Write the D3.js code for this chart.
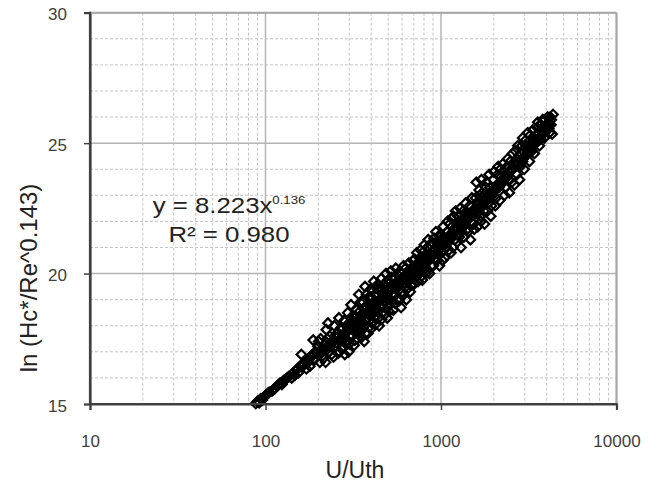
<!DOCTYPE html>
<html>
<head>
<meta charset="utf-8">
<script src="https://cdn.jsdelivr.net/npm/d3@7"></script>
<style>
  body { margin: 0; background: #fff; }
  svg { display: block; font-family: Arial, "Liberation Sans", sans-serif; }
  .tick-label { fill: #404040; font-size: 17px; }
  .title { fill: #222; font-size: 23px; }
</style>
</head>
<body>
<svg width="657" height="487"></svg>
<script>
// Tick values
const X_TICKS = [10, 100, 1000, 10000];
const X_MINOR = [20, 30, 40, 50, 60, 70, 80, 90, 200, 300, 400, 500, 600, 700, 800, 900,
                 2000, 3000, 4000, 5000, 6000, 7000, 8000, 9000];
const Y_TICKS = [15, 20, 25, 30];
const Y_MINOR = [16, 17, 18, 19, 21, 22, 23, 24, 26, 27, 28, 29];

// Power fit shown on the chart
const FIT_A = 8.223;
const FIT_B = 0.136;
const FIT_RANGE = [83.2, 4400];

// Observations: U/Uth
const U_RATIO = [
  88, 90, 92, 94, 96, 99, 101,
  105, 109, 113, 117, 121, 124,
  130, 136, 141, 147, 150, 154, 158, 160,
  166, 171, 175, 179, 183, 187, 190, 196, 199, 204, 206, 209,
  214, 218, 222, 227, 230, 233, 238, 241, 246, 250, 255, 259, 262, 266,
  272, 276, 281, 285, 290, 294, 298, 303, 307, 311, 316, 320, 325, 330, 335, 340, 344,
  350, 355, 360, 365, 369, 373, 378, 383, 388, 392, 397, 402, 408, 414, 420, 426, 432, 438, 444, 449,
  456, 462, 470, 478, 486, 494, 502, 510, 518, 526, 535, 544, 553, 562, 572, 582, 592, 600,
  612, 622, 634, 645, 656, 668, 680, 692, 704, 716, 728, 740, 752, 764,
  776, 790, 804, 818, 832, 846, 860, 875, 890, 905, 920, 935, 950, 965, 980, 995, 1010,
  1030, 1050, 1070, 1090, 1110, 1130, 1150, 1170, 1190, 1210, 1235, 1260, 1285, 1300,
  1325, 1350, 1380, 1410, 1440, 1470, 1500, 1530, 1560, 1590, 1620, 1650, 1680, 1700,
  1740, 1770, 1800, 1840, 1880, 1920, 1960, 2000, 2040, 2080, 2120, 2160, 2200,
  2250, 2300, 2350, 2400, 2450, 2500, 2560, 2620, 2680, 2740, 2800, 2860, 2920,
  2980, 3050, 3120, 3190, 3260, 3330, 3400, 3480, 3560, 3640, 3720, 3800, 3880, 3960,
  4050, 4150, 4250, 4350, 4300,
  201, 212, 220, 225, 236, 244, 248, 253, 264, 268, 278, 283, 288, 292, 300, 305,
  313, 318, 323, 328, 333, 338, 342, 347, 352, 357, 362, 367, 371, 376, 381, 386, 390, 395,
  400, 405, 411, 417, 423, 429, 435, 441, 447,
  452, 459, 466, 474, 482, 490, 498, 506, 514, 522, 530, 540, 549, 558, 567, 577, 587, 597,
  606, 617, 628, 640, 651, 662, 674, 686, 698, 710, 722, 734, 746, 758,
  770, 783, 797, 811, 825, 839, 853, 867, 882, 897, 912, 927, 942, 957, 972, 988, 1002,
  1020, 1040, 1060, 1080, 1100, 1120, 1140, 1160, 1180, 1200, 1222, 1248, 1272, 1292,
  1312, 1338, 1365, 1395, 1425, 1455, 1485, 1515, 1545, 1575, 1605, 1635, 1665, 1690,
  1720, 1755, 1785, 1820, 1860, 1900, 1940, 1980, 2020, 2060, 2100, 2140, 2180,
  2230, 2280, 2330, 2380, 2430, 2480, 2530, 2590, 2650, 2710, 2770, 2830, 2890, 2950,
  3020, 3080, 3150, 3220, 3300, 3370, 3440, 3520, 3600, 3680, 3760, 3840, 3920, 4000, 4100, 4200,
  103, 111, 119, 127, 133, 144, 152, 163, 169, 177, 185, 193,
  208, 216, 224, 232, 240, 252, 260, 270, 279, 287, 296, 309, 315, 326, 336, 346, 354, 363,
  374, 384, 394, 404, 415, 425, 437, 446,
  460, 472, 484, 496, 508, 520, 533, 547, 560, 575, 590, 604, 620, 637, 654, 671, 689, 707,
  725, 743, 761, 780, 800, 820, 842, 864, 886, 910, 932, 956, 978, 998,
  1025, 1055, 1085, 1115, 1145, 1175, 1205, 1240, 1275, 1305, 1345, 1385, 1420, 1460, 1500,
  1540, 1580, 1625, 1670, 1715, 1760, 1810, 1860, 1910, 1960, 2010, 2070, 2130, 2190,
  2260, 2320, 2390, 2460, 2540, 2610, 2690, 2760, 2840, 2910, 2990, 3070, 3160, 3240, 3330,
  3420, 3510, 3610, 3700, 3800, 3900, 4020, 4120, 4230
];

// Observations: ln (Hc*/Re^0.143)
const LN_HC = [
  15.02, 15.10, 15.05, 15.20, 15.15, 15.30, 15.35,
  15.45, 15.50, 15.60, 15.70, 15.80, 15.75,
  15.95, 16.05, 16.00, 16.10, 16.30, 16.20, 16.45, 16.90,
  16.50, 16.35, 16.60, 16.45, 16.80, 17.45, 16.70, 16.95, 17.20, 16.60, 17.50, 17.05,
  16.75, 17.30, 17.85, 18.10, 17.00, 17.60, 16.90, 17.40, 18.00, 17.20, 17.70, 16.95, 18.30, 17.50,
  17.10, 17.90, 18.20, 17.35, 17.75, 18.50, 17.00, 18.05, 18.80, 17.60, 18.35, 17.25, 18.00, 18.60, 17.50, 19.20, 18.10,
  17.80, 18.45, 18.90, 17.40, 19.50, 18.20, 18.70, 17.70, 19.10, 18.40, 19.40, 17.90, 18.80, 19.70, 18.30, 19.15, 18.60, 19.60, 18.00, 19.00,
  19.80, 18.50, 19.30, 18.90, 20.00, 18.30, 19.60, 18.80, 20.10, 19.20, 18.60, 19.80, 20.20, 19.00, 19.50, 20.10, 18.70, 19.30,
  20.30, 19.60, 19.00, 20.00, 20.40, 19.30, 19.80, 20.50, 19.60, 20.10, 20.80, 19.70, 20.30, 20.90,
  19.90, 20.60, 21.10, 20.10, 20.70, 21.30, 20.00, 20.60, 21.20, 20.30, 20.90, 21.60, 20.50, 21.10, 20.30, 21.50, 20.80,
  21.80, 20.60, 21.20, 22.00, 20.90, 21.50, 22.10, 21.00, 21.70, 22.40, 21.20, 21.90, 22.50, 21.00,
  22.10, 21.40, 22.70, 21.70, 22.30, 21.30, 22.90, 21.90, 22.50, 23.50, 21.80, 23.20, 22.20, 23.60,
  22.70, 21.90, 23.30, 22.40, 23.80, 22.20, 23.00, 23.90, 22.60, 23.40, 24.10, 22.80, 23.70,
  24.20, 23.00, 23.80, 24.40, 23.10, 24.00, 24.60, 23.40, 24.30, 24.90, 23.60, 24.60, 25.20,
  24.00, 24.90, 25.40, 24.30, 25.00, 25.50, 24.60, 25.30, 25.80, 24.90, 25.50, 25.90, 25.20, 25.70,
  26.00, 25.40, 25.90, 26.10, 25.35,
  17.40, 17.10, 16.60, 17.50, 17.20, 16.80, 17.60, 17.35, 17.00, 17.90, 17.55, 16.90, 18.00, 17.45, 17.30, 18.30,
  18.00, 17.80, 17.45, 18.35, 17.85, 18.50, 17.70, 18.90, 17.55, 18.15, 18.65, 18.00, 17.70, 19.20, 18.30, 18.85, 17.95, 18.60,
  19.10, 18.10, 19.35, 18.55, 18.05, 18.90, 19.40, 18.30, 18.75,
  19.45, 18.25, 18.80, 19.60, 18.45, 19.15, 19.75, 18.55, 19.35, 19.85, 18.90, 19.50, 18.85, 19.65, 19.95, 18.95, 19.75, 20.00,
  19.15, 19.80, 20.20, 19.40, 19.75, 20.10, 19.55, 20.25, 19.90, 20.55, 19.90, 20.40, 20.05, 20.60,
  20.30, 19.75, 20.85, 20.40, 20.00, 21.00, 20.50, 21.10, 20.30, 20.85, 21.35, 20.60, 21.20, 20.75, 21.45, 20.95, 21.30,
  20.50, 21.40, 21.00, 21.60, 21.25, 21.90, 20.80, 21.45, 22.20, 21.30, 21.80, 22.20, 21.40, 22.00,
  21.60, 22.40, 21.90, 22.30, 21.60, 22.60, 22.00, 22.40, 21.70, 22.90, 22.30, 22.70, 23.00, 22.00,
  23.10, 22.40, 23.00, 23.50, 22.70, 23.30, 22.60, 23.60, 23.20, 22.90, 23.80, 23.30, 24.00,
  23.50, 23.90, 23.30, 24.10, 23.60, 24.30, 23.50, 24.20, 24.70, 23.80, 24.50, 24.10, 24.90, 24.40,
  25.10, 24.60, 24.90, 25.30, 24.70, 25.20, 25.00, 25.60, 25.10, 25.70, 25.30, 25.60, 25.90, 25.50, 25.80, 26.00,
  15.40, 15.55, 15.75, 15.90, 16.00, 16.20, 16.35, 16.55, 16.65, 16.75, 16.90, 17.00,
  16.95, 17.10, 17.20, 17.30, 17.35, 17.55, 17.60, 17.45, 17.70, 17.75, 17.90, 17.95, 18.10, 18.10, 18.20, 18.30, 18.15, 18.40,
  18.50, 18.45, 18.65, 18.70, 18.85, 18.70, 18.90, 19.00,
  19.00, 18.95, 19.20, 19.05, 19.30, 19.45, 19.25, 19.45, 19.60, 19.50, 19.65, 19.55, 19.85, 19.75, 19.95, 19.90, 20.05, 20.15,
  20.10, 20.30, 20.25, 20.45, 20.40, 20.60, 20.55, 20.75, 20.70, 20.90, 20.80, 21.00, 21.05, 20.95,
  21.10, 21.25, 21.30, 21.40, 21.55, 21.50, 21.65, 21.70, 21.85, 21.75, 21.95, 22.05, 22.10, 22.15, 22.30,
  22.25, 22.45, 22.50, 22.55, 22.65, 22.75, 22.85, 23.00, 22.95, 23.20, 23.15, 23.30, 23.45, 23.40,
  23.60, 23.70, 23.75, 23.90, 24.00, 24.05, 24.20, 24.25, 24.35, 24.30, 24.50, 24.55, 24.70, 24.75, 24.90,
  24.95, 25.05, 25.20, 25.15, 25.35, 25.40, 25.60, 25.55, 25.70
];

var pArea = [90, 12.7, 616.5, 404];

var xScale = d3.scaleLog()
  .domain([10, 10000])
  .range([pArea[0], pArea[2]]);

var yScale = d3.scaleLinear()
  .domain([15, 30])
  .range([pArea[3], pArea[1]]);

var svg = d3.select("svg");
var g = svg.append("g");

// minor grid
g.selectAll(".vminor").data(X_MINOR).enter().append("line")
  .attr("x1", d => xScale(d)).attr("x2", d => xScale(d))
  .attr("y1", pArea[1]).attr("y2", pArea[3])
  .attr("stroke", "#c4c4c4").attr("stroke-width", 1)
  .attr("stroke-dasharray", "3,2");

g.selectAll(".hminor").data(Y_MINOR).enter().append("line")
  .attr("x1", pArea[0]).attr("x2", pArea[2])
  .attr("y1", d => yScale(d)).attr("y2", d => yScale(d))
  .attr("stroke", "#c4c4c4").attr("stroke-width", 1)
  .attr("stroke-dasharray", "3,2");

// major grid
g.selectAll(".vmajor").data(X_TICKS.slice(1)).enter().append("line")
  .attr("x1", d => xScale(d)).attr("x2", d => xScale(d))
  .attr("y1", pArea[1]).attr("y2", pArea[3])
  .attr("stroke", "#b4b4b4").attr("stroke-width", 1.5);

g.selectAll(".hmajor").data(Y_TICKS.slice(1)).enter().append("line")
  .attr("x1", pArea[0]).attr("x2", pArea[2])
  .attr("y1", d => yScale(d)).attr("y2", d => yScale(d))
  .attr("stroke", "#b4b4b4").attr("stroke-width", 1.5);

// x-axis
var xAxis = g.append("g")
  .attr("transform", `translate(0, ${pArea[3]})`)
  .call(d3.axisBottom(xScale).tickValues(X_TICKS).tickFormat(d3.format("d")).tickSize(6).tickPadding(25));
xAxis.select(".domain").attr("stroke", "#404040").attr("stroke-width", 2.2);
xAxis.selectAll("line").attr("stroke", "#404040").attr("stroke-width", 1.5);
xAxis.selectAll("text").attr("class", "tick-label").attr("font-size", null);

// y-axis
var yAxis = g.append("g")
  .attr("transform", `translate(${pArea[0]}, 0)`)
  .call(d3.axisLeft(yScale).tickValues(Y_TICKS).tickSize(6).tickPadding(17));
yAxis.select(".domain").attr("stroke", "#404040").attr("stroke-width", 2.2);
yAxis.selectAll("line").attr("stroke", "#404040").attr("stroke-width", 1.5);
yAxis.selectAll("text").attr("class", "tick-label").attr("font-size", null).attr("dy", "0.42em");

// fit line
var fitX = d3.range(0, 61).map(i => FIT_RANGE[0] * Math.pow(FIT_RANGE[1] / FIT_RANGE[0], i / 60));
var line = d3.line()
  .x(d => xScale(d))
  .y(d => yScale(FIT_A * Math.pow(d, FIT_B)));
g.append("path")
  .datum(fitX)
  .attr("fill", "none").attr("stroke", "#000").attr("stroke-width", 3.2)
  .attr("d", line);

// data points (diamonds)
var diamond = d3.symbol().type(d3.symbolSquare).size(45);
g.selectAll(".dot").data(U_RATIO).enter().append("path")
  .attr("class", "dot")
  .attr("d", diamond)
  .attr("transform", (d, i) => `translate(${xScale(d)},${yScale(LN_HC[i])}) rotate(45)`)
  .attr("fill", "none").attr("stroke", "#000").attr("stroke-width", 2.2);

// top/right border
g.append("line").attr("x1", pArea[0]).attr("x2", pArea[2]).attr("y1", pArea[1]).attr("y2", pArea[1])
  .attr("stroke", "#a6a6a6").attr("stroke-width", 2);
g.append("line").attr("x1", pArea[2]).attr("x2", pArea[2]).attr("y1", pArea[1]).attr("y2", pArea[3])
  .attr("stroke", "#a6a6a6").attr("stroke-width", 2);
// redraw axis lines on top
g.append("line").attr("x1", pArea[0]).attr("x2", pArea[0]).attr("y1", pArea[1] - 1).attr("y2", pArea[3])
  .attr("stroke", "#404040").attr("stroke-width", 2.2);
g.append("line").attr("x1", pArea[0]).attr("x2", pArea[2] + 1).attr("y1", pArea[3]).attr("y2", pArea[3])
  .attr("stroke", "#404040").attr("stroke-width", 2.2);

// axis titles
g.append("text")
  .attr("class", "title")
  .attr("x", 355).attr("y", 478)
  .attr("text-anchor", "middle")
  .text("U/Uth");

g.append("text")
  .attr("class", "title")
  .attr("transform", "translate(37, 278) rotate(-90)")
  .attr("text-anchor", "middle")
  .style("font-size", "24px")
  .text("ln (Hc*/Re^0.143)");

// equation
var eq = g.append("g").attr("transform", "translate(229, 0) scale(1.2, 1)");
var t1 = eq.append("text")
  .attr("x", 0).attr("y", 213)
  .attr("text-anchor", "middle")
  .attr("fill", "#222").style("font-size", "21.5px");
t1.append("tspan").text(`y = ${FIT_A}x`);
t1.append("tspan").attr("dy", -9).style("font-size", "11px").text(FIT_B.toFixed(3));

eq.append("text")
  .attr("x", 0).attr("y", 242)
  .attr("text-anchor", "middle")
  .attr("fill", "#222").style("font-size", "21.5px")
  .text("R² = 0.980");
</script>
</body>
</html>
